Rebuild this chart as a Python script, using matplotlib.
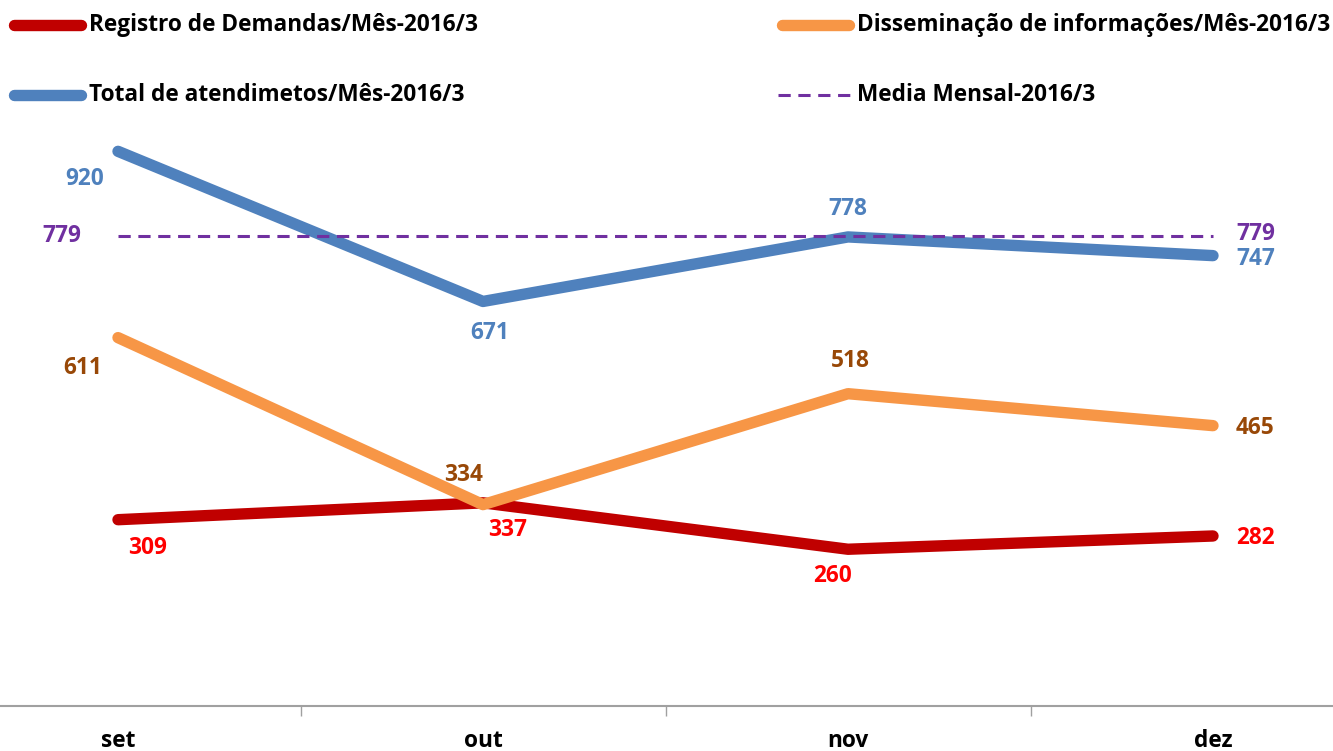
import matplotlib
matplotlib.use("Agg")
import matplotlib.pyplot as plt
from matplotlib.lines import Line2D

months = ["set", "out", "nov", "dez"]
registro = [309, 337, 260, 282]
dissem = [611, 334, 518, 465]
total = [920, 671, 778, 747]
media = [779, 779, 779, 779]

leg_labels = ["Registro de Demandas/Mês-2016/3", "Disseminação de informações/Mês-2016/3",
              "Total de atendimetos/Mês-2016/3", "Media Mensal-2016/3"]

FONT = "Open Sans"
plt.rcParams['font.family'] = [FONT, 'DejaVu Sans']

c_red, c_org, c_blu, c_pur = "#C00000", "#F79646", "#4F81BD", "#7030A0"
t_red, t_org, t_blu, t_pur = "#FF0000", "#984807", "#4F81BD", "#7030A0"

W, H = 1333, 751
fig = plt.figure(figsize=(W / 100, H / 100), dpi=100)
ax = fig.add_axes([0, (H - 706) / H, 1, 706 / H])
x = list(range(len(months)))
lw = 8.2
ax.plot(x, registro, color=c_red, lw=lw, solid_capstyle='round', solid_joinstyle='round', zorder=3)
ax.plot(x, dissem, color=c_org, lw=lw, solid_capstyle='round', solid_joinstyle='round', zorder=4)
ax.plot(x, total, color=c_blu, lw=lw, solid_capstyle='round', solid_joinstyle='round', zorder=3)
ax.plot(x, media, color=c_pur, lw=2.2, ls=(0, (4, 2.5)), zorder=5)

ax.set_xlim(-118 / 365, (W - 118) / 365)
ax.set_ylim(0, 1171)
for s in ["top", "right", "left"]:
    ax.spines[s].set_visible(False)
ax.spines["bottom"].set_color("#A0A0A0")
ax.spines["bottom"].set_linewidth(1.5)
ax.set_yticks([])
ax.set_xticks([0.5, 1.5, 2.5])
ax.set_xticklabels([])
ax.tick_params(axis='x', length=7, color="#A0A0A0", width=1, direction='out')
fs = 16.3
for i, m in enumerate(months):
    ax.annotate(m, (i, 0), xytext=(0, -35), textcoords='offset pixels', ha='center', va='center',
                fontsize=fs, fontweight='bold', color='black')

def lab(i, v, dx, dy, color, ha='center', va='center'):
    ax.annotate(str(v), (i, v), xytext=(dx, dy), textcoords='offset pixels', ha=ha, va=va,
                fontsize=fs, fontweight='bold', color=color)

# offsets in pixels (dy positive = up)
lab(0, total[0], -33, -28, t_blu)
lab(1, total[1], 7, -32, t_blu)
lab(2, total[2], 0, 28, t_blu)
lab(3, total[3], 23, -3, t_blu, ha='left')
lab(0, media[0], -56, 0, t_pur)
lab(3, media[3], 23, 2, t_pur, ha='left')
lab(0, dissem[0], -35, -30, t_org)
lab(1, dissem[1], -19, 30, t_org)
lab(2, dissem[2], 2, 33, t_org)
lab(3, dissem[3], 23, -2, t_org, ha='left')
lab(0, registro[0], 30, -28, t_red)
lab(1, registro[1], 25, -27, t_red)
lab(2, registro[2], -15, -27, t_red)
lab(3, registro[3], 23, -2, t_red, ha='left')

# legend
leg = [(c_red, 'solid', 10, 25, leg_labels[0]), (c_org, 'solid', 778, 25, leg_labels[1]),
       (c_blu, 'solid', 10, 95, leg_labels[2]), (c_pur, 'dash', 778, 95, leg_labels[3])]
for col, st, lx, ly, txt in leg:
    yy = 1 - ly / H
    if st == 'solid':
        fig.add_artist(Line2D([(lx + 4) / W, (lx + 71) / W], [yy, yy], color=col, lw=lw,
                              solid_capstyle='round'))
    else:
        fig.add_artist(Line2D([(lx) / W, (lx + 72) / W], [yy, yy], color=col, lw=2.2,
                              ls=(0, (4, 2.5))))
    fig.text((lx + 79) / W, yy, txt, ha='left', va='center', fontsize=fs, fontweight='bold',
             color='black')

fig.savefig("out.png", dpi=100)
